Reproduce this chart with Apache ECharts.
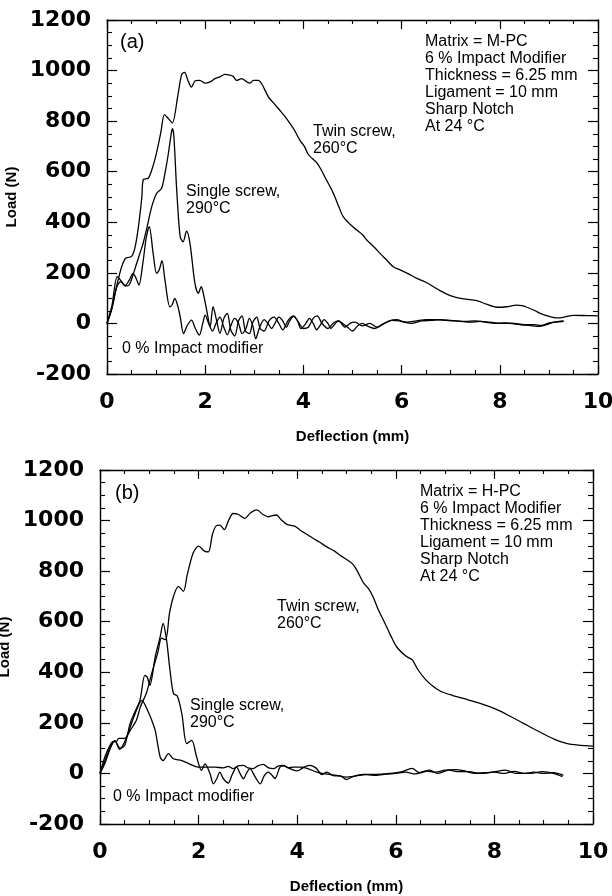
<!DOCTYPE html>
<html><head><meta charset="utf-8">
<script src="https://cdn.jsdelivr.net/npm/echarts@6/dist/echarts.min.js"></script>
<style>html,body{margin:0;padding:0;background:#fff}#c{width:612px;height:896px}</style>
</head><body><div id="c"></div>
<script>
// ---- axis ranges / tick settings ----
const xMin = 0, xMax = 10, xStep = 2;
const yMin = -200, yMax = 1200, yStep = 200;
const xTitle = 'Deflection (mm)';
const yTitle = 'Load (N)';

// ---- panel (a): Matrix = M-PC ----
const twinA = [[0,0],[0.1,60],[0.2,150],[0.3,225],[0.38,258],[0.5,265],[0.57,300],[0.64,382],[0.71,500],[0.74,569],[0.84,574],[0.91,606],[0.98,652],[1.05,711],[1.1,760],[1.17,826],[1.25,810],[1.33,793],[1.44,898],[1.52,984],[1.58,993],[1.65,960],[1.72,935],[1.8,960],[1.89,961],[2.0,950],[2.1,955],[2.2,968],[2.3,975],[2.4,985],[2.5,982],[2.57,977],[2.64,961],[2.74,968],[2.85,955],[2.91,950],[2.98,961],[3.08,961],[3.15,948],[3.29,895],[3.4,870],[3.52,843],[3.63,817],[3.73,790],[3.83,760],[3.93,724],[4.02,700],[4.1,668],[4.18,652],[4.27,636],[4.37,605],[4.47,567],[4.56,535],[4.64,501],[4.72,462],[4.81,422],[4.95,392],[5.09,369],[5.21,350],[5.29,330],[5.45,300],[5.56,277],[5.7,250],[5.83,224],[5.97,212],[6.15,195],[6.31,178],[6.51,161],[6.65,145],[6.78,130],[6.99,110],[7.26,97],[7.53,90],[7.73,76],[7.94,64],[8.14,66],[8.34,72],[8.45,70],[8.55,64],[8.7,52],[8.82,40],[9.02,27],[9.16,22],[9.29,24],[9.5,32],[9.77,31],[10,30]];
const singleA = [[0,0],[0.1,60],[0.2,145],[0.28,165],[0.37,148],[0.45,152],[0.54,198],[0.6,235],[0.67,277],[0.74,320],[0.81,376],[0.91,461],[1.01,514],[1.11,534],[1.18,593],[1.25,672],[1.3,740],[1.33,770],[1.36,745],[1.42,527],[1.49,343],[1.55,323],[1.62,365],[1.69,317],[1.79,159],[1.86,119],[1.92,145],[1.96,120],[2.03,53],[2.1,-13],[2.16,66],[2.23,14],[2.3,-39],[2.38,20],[2.45,40],[2.52,-25],[2.6,-50],[2.68,10],[2.75,30],[2.82,-30],[2.9,-40],[2.97,5],[3.05,25],[3.12,-20],[3.2,-30],[3.3,10],[3.4,25],[3.5,0],[3.58,-25],[3.7,15],[3.8,30],[3.9,5],[4.0,-20],[4.1,-15],[4.2,20],[4.28,30],[4.38,0],[4.5,-20],[4.6,0],[4.7,10],[4.8,0],[4.9,-15],[5.0,-30],[5.1,-10],[5.2,0],[5.3,-10],[5.45,-20],[5.6,-5],[5.75,10],[5.9,15],[6.05,5],[6.2,0],[6.4,10],[6.6,12],[6.8,15],[7.0,12],[7.2,8],[7.4,5],[7.6,8],[7.8,5],[8.0,0],[8.2,0],[8.4,-5],[8.6,-8],[8.8,-12],[8.95,-5],[9.1,5],[9.3,10]];
const zeroA = [[0,0],[0.1,70],[0.21,185],[0.3,165],[0.37,150],[0.45,170],[0.53,198],[0.6,175],[0.65,152],[0.73,238],[0.8,340],[0.86,383],[0.94,277],[1.01,198],[1.06,210],[1.12,248],[1.18,172],[1.28,66],[1.33,75],[1.38,99],[1.44,70],[1.49,27],[1.56,-40],[1.63,-10],[1.72,13],[1.8,-20],[1.88,-46],[1.95,0],[2.0,33],[2.07,0],[2.15,-30],[2.22,0],[2.3,25],[2.38,-15],[2.45,-45],[2.52,-10],[2.6,20],[2.68,0],[2.75,-40],[2.83,-20],[2.9,20],[2.97,-10],[3.03,-60],[3.1,-20],[3.2,15],[3.28,0],[3.35,-20],[3.42,0],[3.5,25],[3.58,10],[3.65,-15],[3.72,10],[3.8,28],[3.88,10],[3.95,-20],[4.05,0],[4.12,20],[4.2,0],[4.27,-25],[4.35,-5],[4.42,15],[4.5,0],[4.56,-20],[4.65,0],[4.72,10],[4.85,-15],[4.95,0],[5.05,5],[5.2,-10],[5.35,0],[5.5,-15],[5.65,0],[5.8,12],[5.95,10],[6.1,5],[6.3,10],[6.5,15],[6.7,15],[6.9,12],[7.1,10],[7.3,8],[7.5,10],[7.7,5],[7.9,0],[8.1,2],[8.3,0],[8.5,-5],[8.7,-5],[8.85,-8],[9.0,2],[9.15,5],[9.3,8]];

// ---- panel (b): Matrix = H-PC ----
const twinB = [[0,0],[0.1,66],[0.2,110],[0.26,126],[0.33,125],[0.38,139],[0.5,139],[0.62,172],[0.74,211],[0.82,264],[0.94,317],[1.05,396],[1.17,476],[1.25,535],[1.33,529],[1.41,634],[1.49,700],[1.59,740],[1.69,720],[1.77,786],[1.89,872],[2.0,899],[2.12,879],[2.2,876],[2.28,945],[2.36,980],[2.43,982],[2.52,964],[2.6,997],[2.7,1028],[2.8,1025],[2.94,1009],[3.05,1030],[3.18,1042],[3.3,1025],[3.41,1015],[3.5,1020],[3.58,1022],[3.67,1004],[3.79,985],[3.95,978],[4.06,962],[4.15,951],[4.33,929],[4.45,915],[4.6,896],[4.75,880],[4.87,863],[5.07,837],[5.14,825],[5.21,804],[5.34,755],[5.45,730],[5.54,698],[5.65,645],[5.75,606],[5.89,548],[6.02,500],[6.21,463],[6.33,450],[6.45,410],[6.61,370],[6.76,344],[6.92,324],[7.16,308],[7.48,290],[7.8,271],[8.03,254],[8.27,231],[8.59,198],[8.91,165],[9.22,135],[9.46,119],[9.7,112],[10,108]];
const singleB = [[0,0],[0.1,40],[0.2,95],[0.3,130],[0.41,100],[0.5,110],[0.61,197],[0.7,240],[0.81,289],[0.91,388],[0.96,380],[1.01,348],[1.12,461],[1.22,540],[1.28,593],[1.35,527],[1.42,408],[1.49,316],[1.57,305],[1.66,236],[1.76,118],[1.86,131],[1.96,65],[2.06,12],[2.13,38],[2.23,0],[2.3,-41],[2.37,-20],[2.43,5],[2.5,-20],[2.6,-38],[2.68,-5],[2.77,25],[2.84,0],[2.91,-21],[2.97,0],[3.04,19],[3.15,-15],[3.25,-41],[3.33,-10],[3.41,5],[3.48,-5],[3.55,-20],[3.65,25],[3.72,30],[3.79,25],[3.9,15],[4.0,10],[4.1,20],[4.15,26],[4.26,32],[4.39,20],[4.5,-5],[4.6,5],[4.75,-10],[4.87,-10],[5.0,-24],[5.1,-15],[5.21,-8],[5.35,-4],[5.54,-4],[5.75,-2],[5.95,1],[6.13,7],[6.33,20],[6.49,2],[6.69,13],[6.84,0],[7.08,13],[7.24,7],[7.48,7],[7.72,0],[7.95,5],[8.23,13],[8.43,0],[8.7,0],[8.98,7],[9.2,0],[9.38,-13]];
const zeroB = [[0,0],[0.1,50],[0.2,100],[0.3,130],[0.4,95],[0.5,125],[0.6,175],[0.7,230],[0.85,289],[0.98,243],[1.05,210],[1.12,170],[1.22,65],[1.28,51],[1.39,78],[1.49,58],[1.66,51],[1.83,36],[1.99,25],[2.16,25],[2.33,25],[2.5,22],[2.6,28],[2.7,19],[2.8,30],[2.91,32],[3.0,22],[3.11,19],[3.2,30],[3.31,36],[3.42,22],[3.52,19],[3.62,30],[3.72,32],[3.82,22],[3.92,25],[4.06,25],[4.2,20],[4.4,5],[4.6,-3],[4.8,-8],[5.0,-15],[5.2,-10],[5.4,-5],[5.6,-8],[5.8,-3],[6.0,0],[6.2,5],[6.4,-2],[6.6,10],[6.8,5],[7.0,13],[7.2,15],[7.4,10],[7.6,0],[7.8,3],[8.0,5],[8.2,0],[8.4,8],[8.6,0],[8.8,5],[9.0,0],[9.2,3],[9.4,-8]];

// ---- annotation texts ----
const panelLabels = ['(a)', '(b)'];
const infoA = ['Matrix = M-PC','6 % Impact Modifier','Thickness = 6.25 mm','Ligament = 10 mm','Sharp Notch','At 24 °C'];
const infoB = ['Matrix = H-PC','6 % Impact Modifier','Thickness = 6.25 mm','Ligament = 10 mm','Sharp Notch','At 24 °C'];
const twinLabel = 'Twin screw,\n260°C';
const singleLabel = 'Single screw,\n290°C';
const zeroLabel = '0 % Impact modifier';

const chart = echarts.init(document.getElementById('c'), null, {renderer: 'canvas'});
const tickFont = {fontFamily: 'DejaVu Sans', fontWeight: 'bold', fontSize: 22, color: '#000'};
const nameFont = {fontFamily: 'Liberation Sans', fontWeight: 'bold', fontSize: 15, color: '#000'};
const lineStyle = {color: '#000', width: 1.4};
const plain = v => String(v);

function xAx(grid, pos, label, gap) {
  return {
    type: 'value', gridIndex: grid, position: pos, min: xMin, max: xMax, interval: xStep,
    name: label ? xTitle : '', nameLocation: 'middle', nameGap: gap, nameTextStyle: nameFont,
    axisLine: {show: true, onZero: false, lineStyle: lineStyle},
    axisTick: {show: true, inside: true, length: 9, lineStyle: {color: '#000', width: 1.2}},
    minorTick: {show: true, splitNumber: 4, length: 4, lineStyle: {color: '#000', width: 1.1}},
    axisLabel: Object.assign({show: label, margin: 17, showMinLabel: true, showMaxLabel: true, formatter: plain}, tickFont),
    splitLine: {show: false}, minorSplitLine: {show: false}
  };
}
function yAx(grid, pos, label, gap) {
  return {
    type: 'value', gridIndex: grid, position: pos, min: yMin, max: yMax, interval: yStep,
    name: label ? yTitle : '', nameLocation: 'middle', nameGap: gap, nameRotate: 90, nameTextStyle: nameFont,
    axisLine: {show: true, onZero: false, lineStyle: lineStyle},
    axisTick: {show: true, inside: true, length: 10, lineStyle: {color: '#000', width: 1.2}},
    minorTick: {show: true, splitNumber: 4, length: 5, lineStyle: {color: '#000', width: 1.1}},
    axisLabel: Object.assign({show: label, margin: 16, showMinLabel: true, showMaxLabel: true, formatter: plain}, tickFont),
    splitLine: {show: false}, minorSplitLine: {show: false}
  };
}
function ser(data, xi, yi) {
  return {type: 'line', data: data, xAxisIndex: xi, yAxisIndex: yi, showSymbol: false, symbol: 'none',
    smooth: 0.3, lineStyle: {color: '#000', width: 1.3}, silent: true, animation: false, z: 3};
}
function txt(x, y, text, size) {
  return {type: 'text', x: x, y: y, silent: true, z: 10,
    style: {text: text, fill: '#000', font: (size || 16) + 'px "Liberation Sans", Arial, sans-serif',
      align: 'left', verticalAlign: 'top', textAlign: 'left', textVerticalAlign: 'top', lineHeight: 17}};
}

chart.setOption({
  backgroundColor: '#fff',
  animation: false,
  grid: [
    {left: 107, top: 20, width: 491, height: 354, containLabel: false, outerBoundsMode: 'none'},
    {left: 100, top: 470, width: 493, height: 354, containLabel: false, outerBoundsMode: 'none'}
  ],
  xAxis: [xAx(0, 'bottom', true, 55), xAx(0, 'top', false, 0), xAx(1, 'bottom', true, 55), xAx(1, 'top', false, 0)],
  yAxis: [yAx(0, 'left', true, 75), yAx(0, 'right', false, 0), yAx(1, 'left', true, 68), yAx(1, 'right', false, 0)],
  series: [
    ser(twinA, 0, 0), ser(singleA, 0, 0), ser(zeroA, 0, 0),
    ser(twinB, 2, 2), ser(singleB, 2, 2), ser(zeroB, 2, 2)
  ],
  graphic: [
    txt(120, 34, panelLabels[0], 20),
    txt(425, 33.5, infoA.join('\n')),
    txt(313, 123.5, twinLabel),
    txt(186, 183.5, singleLabel),
    txt(122, 340.5, zeroLabel),
    txt(115, 485, panelLabels[1], 20),
    txt(420, 483.5, infoB.join('\n')),
    txt(277, 598.5, twinLabel),
    txt(190, 697.5, singleLabel),
    txt(113, 788.5, zeroLabel)
  ]
});
</script>
</body></html>
